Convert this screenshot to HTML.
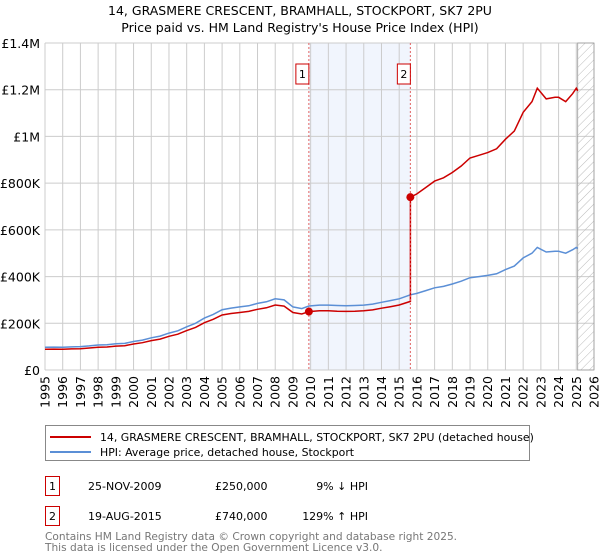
<!DOCTYPE html>
<html><head><meta charset="utf-8"><style>
body{margin:0;background:#fff;}
svg{display:block;font-family:"DejaVu Sans","Liberation Sans",sans-serif;}
</style></head><body>
<svg id="chart" width="600" height="560" viewBox="0 0 600 560">
<text x="300" y="15" text-anchor="middle" font-size="12.5" fill="#000">14, GRASMERE CRESCENT, BRAMHALL, STOCKPORT, SK7 2PU</text>
<text x="300" y="32" text-anchor="middle" font-size="12.5" fill="#000">Price paid vs. HM Land Registry's House Price Index (HPI)</text>
<g id="plot"></g>
<g>
<rect x="45.5" y="425.5" width="484" height="35" fill="#fff" stroke="#888"/>
<line x1="50" y1="437" x2="91" y2="437" stroke="#cc0000" stroke-width="2"/>
<text x="100" y="441" font-size="10.9">14, GRASMERE CRESCENT, BRAMHALL, STOCKPORT, SK7 2PU (detached house)</text>
<line x1="50" y1="452" x2="91" y2="452" stroke="#5b8fd6" stroke-width="2"/>
<text x="100" y="456" font-size="10.9">HPI: Average price, detached house, Stockport</text>
</g>
<g font-size="11">
<rect x="45.5" y="476.5" width="14" height="19" fill="#fff" stroke="#cc0000"/>
<text x="52.5" y="490" text-anchor="middle">1</text>
<text x="88" y="490">25-NOV-2009</text>
<text x="215" y="490">£250,000</text>
<text x="368" y="490" text-anchor="end">9% ↓ HPI</text>
<rect x="45.5" y="506.5" width="14" height="19" fill="#fff" stroke="#cc0000"/>
<text x="52.5" y="520" text-anchor="middle">2</text>
<text x="88" y="520">19-AUG-2015</text>
<text x="215" y="520">£740,000</text>
<text x="368" y="520" text-anchor="end">129% ↑ HPI</text>
</g>
<text x="45" y="540" font-size="10.6" fill="#777">Contains HM Land Registry data © Crown copyright and database right 2025.</text>
<text x="45" y="551" font-size="10.6" fill="#777">This data is licensed under the Open Government Licence v3.0.</text>
</svg>
<script>
const hpiYears=[1995,1995.5,1996,1996.5,1997,1997.5,1998,1998.5,1999,1999.5,2000,2000.5,2001,2001.5,2002,2002.5,2003,2003.5,2004,2004.5,2005,2005.5,2006,2006.5,2007,2007.5,2008,2008.5,2009,2009.5,2009.9,2010.5,2011,2011.5,2012,2012.5,2013,2013.5,2014,2014.5,2015,2015.63,2016,2016.5,2017,2017.5,2018,2018.5,2019,2019.5,2020,2020.5,2021,2021.5,2022,2022.5,2022.8,2023.3,2023.8,2024,2024.4,2024.8,2025,2025.08];
const hpiValues=[97,98,97,99,100,103,107,108,112,114,122,128,138,145,158,168,185,200,222,238,258,265,270,275,285,292,305,300,270,263,274,278,278,276,275,276,278,282,290,297,305,322,328,340,352,358,368,380,395,400,405,412,430,445,480,500,525,505,508,508,500,515,525,520];
const saleDates=[2009.9,2015.63];
const salePrices=[250000,740000];
const yTicks=[0,200000,400000,600000,800000,1000000,1200000,1400000];
const yTickLabels=["£0","£200K","£400K","£600K","£800K","£1M","£1.2M","£1.4M"];
const xTicks=[1995,1996,1997,1998,1999,2000,2001,2002,2003,2004,2005,2006,2007,2008,2009,2010,2011,2012,2013,2014,2015,2016,2017,2018,2019,2020,2021,2022,2023,2024,2025,2026];
const dataEnd=2025.08;

const NS="http://www.w3.org/2000/svg";
const L=45,R=594,T=43,B=370;
const x=v=>L+(v-1995)/(2026-1995)*(R-L);
const y=v=>B-v/1400000*(B-T);
const g=document.getElementById('plot');
function mk(t,a){const e=document.createElementNS(NS,t);for(const k in a)e.setAttribute(k,a[k]);g.appendChild(e);return e;}

let e=mk('rect',{x:x(saleDates[0]),y:T,width:x(saleDates[1])-x(saleDates[0]),height:B-T,fill:'#eef3fc',opacity:0.8});


xTicks.forEach(t=>{const l=mk('line',{x1:x(t),x2:x(t),y1:T,y2:B,stroke:'#ccc','stroke-width':1});


const tx=mk('text',{x:0,y:0,'font-size':12.5,'text-anchor':'end',transform:`translate(${x(t)+4.5},376) rotate(-90)`});tx.textContent=t;

});
yTicks.forEach((t,i)=>{const l=mk('line',{x1:L,x2:R,y1:y(t),y2:y(t),stroke:'#ccc','stroke-width':1});


const tx=mk('text',{x:40,y:y(t)+5,'font-size':12.5,'text-anchor':'end'});tx.textContent=yTickLabels[i];

});
const defs=mk('defs',{});
defs.innerHTML='<pattern id="hatch" width="6" height="6" patternUnits="userSpaceOnUse" patternTransform="rotate(45)"><line x1="0" y1="0" x2="0" y2="6" stroke="#bbb" stroke-width="1"/></pattern>';
e=mk('rect',{x:x(dataEnd),y:T,width:R-x(dataEnd),height:B-T,fill:'url(#hatch)',stroke:'#999','stroke-width':0.8});



function hpiAt(d){for(let i=1;i<hpiYears.length;i++){if(d<=hpiYears[i]){const f=(d-hpiYears[i-1])/(hpiYears[i]-hpiYears[i-1]);return (hpiValues[i-1]+f*(hpiValues[i]-hpiValues[i-1]))*1000;}}return hpiValues[hpiValues.length-1]*1000;}
const r1=salePrices[0]/hpiAt(saleDates[0]), r2=salePrices[1]/hpiAt(saleDates[1]);
let hp='',rp='',jumped=false;
hpiYears.forEach((d,i)=>{const v=hpiValues[i]*1000;hp+=(i?'L':'M')+x(d).toFixed(1)+','+y(v).toFixed(1);
if(d>=saleDates[1]&&!jumped){jumped=true;rp+='L'+x(saleDates[1]).toFixed(1)+','+y(hpiAt(saleDates[1])*r1).toFixed(1)+'L'+x(saleDates[1]).toFixed(1)+','+y(salePrices[1]).toFixed(1);}
const r=d<saleDates[1]?r1:r2;
rp+=(i?'L':'M')+x(d).toFixed(1)+','+y(v*r).toFixed(1);});
e=mk('path',{d:hp,fill:'none',stroke:'#5b8fd6','stroke-width':1.5});


e=mk('path',{d:rp,fill:'none',stroke:'#cc0000','stroke-width':1.5});


saleDates.forEach((d,i)=>{
const l=mk('line',{x1:x(d),x2:x(d),y1:T,y2:B,stroke:'#e06060','stroke-width':1,'stroke-dasharray':'2,2'});


const c=mk('circle',{cx:x(d),cy:y(salePrices[i]),r:4,fill:'#cc0000'});


const b=mk('rect',{x:x(d)-13,y:64,width:13,height:20,fill:'#fff',stroke:'#cc0000'});


const t=mk('text',{x:x(d)-6.5,y:78,'font-size':11,'text-anchor':'middle'});t.textContent=i+1;


});
</script>
</body></html>
